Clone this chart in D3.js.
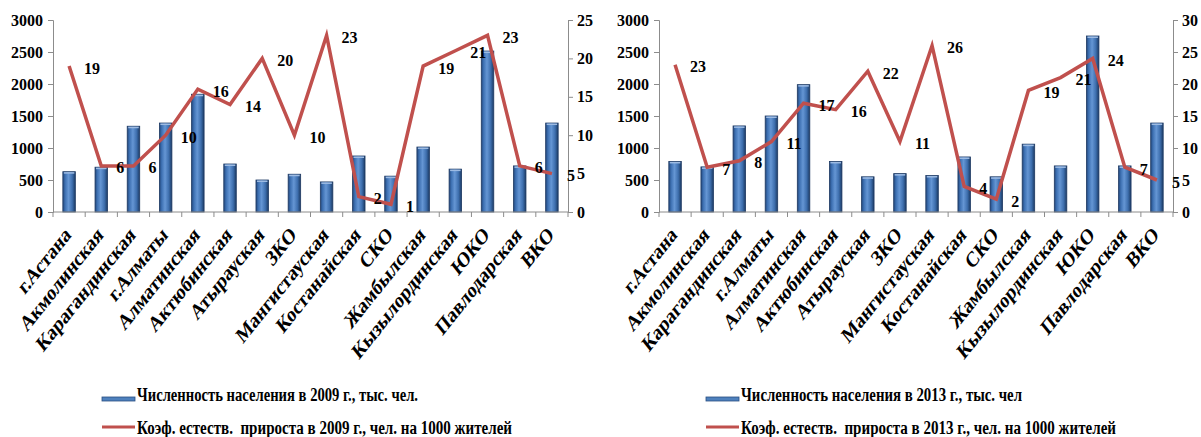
<!DOCTYPE html>
<html>
<head>
<meta charset="utf-8">
<script src="https://cdn.jsdelivr.net/npm/d3@7"></script>
<style>
  body { margin: 0; background: #fff; }
  text { font-family: "Liberation Serif", "DejaVu Serif", "Times New Roman", serif; font-weight: bold; fill: #000; }
</style>
</head>
<body>
<svg id="chart" width="1201" height="437"></svg>
<script>
// categories
const regions = ['г.Астана', 'Акмолинская', 'Карагандинская', 'г.Алматы', 'Алматинская', 'Актюбинская',
  'Атырауская', 'ЗКО', 'Мангистауская', 'Костанайская', 'СКО', 'Жамбылская', 'Кызылординская',
  'ЮКО', 'Павлодарская', 'ВКО'];

// population, thousand people
const population2009 = [630, 700, 1340, 1390, 1840, 750, 500, 590, 470, 875, 560, 1015, 670, 2515, 720, 1390];
const population2013 = [790, 705, 1345, 1500, 1990, 790, 550, 600, 570, 860, 550, 1060, 720, 2750, 720, 1390];

// natural growth rate per 1000 inhabitants
const growth2009 = [19, 6, 6, 10, 16, 14, 20, 10, 23, 2, 1, 19, 21, 23, 6, 5];
const growth2013 = [23, 7, 8, 11, 17, 16, 22, 11, 26, 4, 2, 19, 21, 24, 7, 5];

// tick labels
const popTicks = [0, 500, 1000, 1500, 2000, 2500, 3000];
const growthTicks2009 = [0, 5, 10, 15, 20, 25];
const growthTicks2013 = [0, 5, 10, 15, 20, 25, 30];

// legend texts
const legend2009 = ['Численность населения в 2009 г., тыс. чел.', 'Коэф. естеств.  прироста в 2009 г., чел. на 1000 жителей'];
const legend2013 = ['Численность населения в 2013 г., тыс. чел', 'Коэф. естеств.  прироста в 2013 г., чел. на 1000 жителей'];

const svg = d3.select('#chart');

// bar gradient (3d-ish look of the original)
const defs = svg.append('defs');
const grad = defs.append('linearGradient').attr('id', 'barGrad')
  .attr('x1', '0%').attr('x2', '100%').attr('y1', '0%').attr('y2', '0%');
[['0%', '#22467a'], ['18%', '#3d70b2'], ['45%', '#6596d4'], ['75%', '#3e6fae'], ['100%', '#1b3a64']]
  .forEach(s => grad.append('stop').attr('offset', s[0]).attr('stop-color', s[1]));

const axisColor = '#8c8c8c';
const lineColor = '#c0504d';
const serif = '"Liberation Serif", "DejaVu Serif", serif';

function drawChart(opt) {
  const x0 = opt.left, x1 = opt.right;
  const top = 20, bottom = 212;

  const xScale = d3.scaleBand().domain(regions).range([x0, x1]).paddingInner(0).paddingOuter(0);
  const yScale = d3.scaleLinear().domain([0, 3000]).range([bottom, top]);
  const y2Scale = d3.scaleLinear().domain([0, opt.growthMax]).range([bottom, top]);
  const cx = d => xScale(d) + xScale.bandwidth() / 2;

  const g = svg.append('g');

  // bars
  const barW = 12.5;
  g.selectAll('.bar').data(regions).join('rect')
    .attr('class', 'bar')
    .attr('x', d => cx(d) - barW / 2)
    .attr('y', (d, i) => yScale(opt.pop[i]))
    .attr('width', barW)
    .attr('height', (d, i) => bottom - yScale(opt.pop[i]))
    .attr('fill', 'url(#barGrad)')
    .attr('stroke', '#1f3a63')
    .attr('stroke-width', 0.8);
  // light cap on top of the bars
  g.selectAll('.cap').data(regions).join('rect')
    .attr('class', 'cap')
    .attr('x', d => cx(d) - barW / 2 + 1)
    .attr('y', (d, i) => yScale(opt.pop[i]) + 0.5)
    .attr('width', barW - 2)
    .attr('height', 1.5)
    .attr('fill', '#9dbbe3');

  // left axis
  const yAxis = d3.axisLeft(yScale).tickValues(popTicks).tickFormat(d3.format('d'))
    .tickSize(5).tickPadding(5);
  const yg = g.append('g').attr('transform', `translate(${x0},0)`).call(yAxis);
  // right axis
  const y2Axis = d3.axisRight(y2Scale).tickValues(opt.growthTicks).tickFormat(d3.format('d'))
    .tickSize(5).tickPadding(4);
  const y2g = g.append('g').attr('transform', `translate(${x1},0)`).call(y2Axis);
  // bottom axis with ticks between categories
  const xg = g.append('g');
  xg.append('line').attr('x1', x0).attr('x2', x1).attr('y1', bottom).attr('y2', bottom)
    .attr('stroke', axisColor);
  xg.selectAll('.xt').data(d3.range(regions.length + 1)).join('line')
    .attr('class', 'xt')
    .attr('x1', i => x0 + i * xScale.step()).attr('x2', i => x0 + i * xScale.step())
    .attr('y1', bottom).attr('y2', bottom + 5)
    .attr('stroke', axisColor);

  [yg, y2g].forEach(a => {
    a.attr('font-family', serif);
    a.selectAll('path, line').attr('stroke', axisColor);
    a.selectAll('text').attr('font-size', 16).attr('fill', '#000')
      .style('font-family', serif).style('font-weight', 'bold');
  });

  // category labels (condensed, slanted like the source image)
  xg.selectAll('.cat').data(regions).join('text')
    .attr('class', 'cat')
    .attr('text-anchor', 'end')
    .attr('font-size', 22)
    .attr('transform', d => `translate(${cx(d) + 3},${bottom + 24}) scale(0.8,1) rotate(-45)`)
    .text(d => d);

  // growth line
  const line = d3.line().x((d, i) => cx(regions[i])).y(d => y2Scale(d));
  g.append('path').datum(opt.growth)
    .attr('d', line)
    .attr('fill', 'none')
    .attr('stroke', lineColor)
    .attr('stroke-width', 3.5)
    .attr('stroke-linejoin', 'miter');

  // data labels to the right of the points
  g.selectAll('.lbl').data(opt.growth).join('text')
    .attr('class', 'lbl')
    .attr('x', (d, i) => cx(regions[i]) + 15)
    .attr('y', d => y2Scale(d) + 2)
    .attr('dominant-baseline', 'central')
    .attr('font-size', 16)
    .text(d => d);

  // legend
  const lg = g.append('g');
  lg.append('rect')
    .attr('x', opt.legendX).attr('y', 397).attr('width', 33).attr('height', 4)
    .attr('fill', '#4f81bd').attr('stroke', '#2a4f82').attr('stroke-width', 0.8);
  lg.append('line')
    .attr('x1', opt.legendX).attr('x2', opt.legendX + 33).attr('y1', 427).attr('y2', 427)
    .attr('stroke', lineColor).attr('stroke-width', 3);
  lg.selectAll('.leg').data(opt.legend).join('text')
    .attr('class', 'leg')
    .attr('x', opt.legendX + 35)
    .attr('y', (d, i) => i === 0 ? 395 : 428)
    .attr('dominant-baseline', 'central')
    .attr('font-size', 18)
    .attr('textLength', (d, i) => i === 0 ? 281 : 375)
    .attr('lengthAdjust', 'spacingAndGlyphs')
    .style('white-space', 'pre')
    .text(d => d);
}

drawChart({left: 53, right: 568, pop: population2009, growth: growth2009, growthMax: 25,
  growthTicks: growthTicks2009, legend: legend2009, legendX: 102});
drawChart({left: 659, right: 1173, pop: population2013, growth: growth2013, growthMax: 30,
  growthTicks: growthTicks2013, legend: legend2013, legendX: 706});
</script>
</body>
</html>
